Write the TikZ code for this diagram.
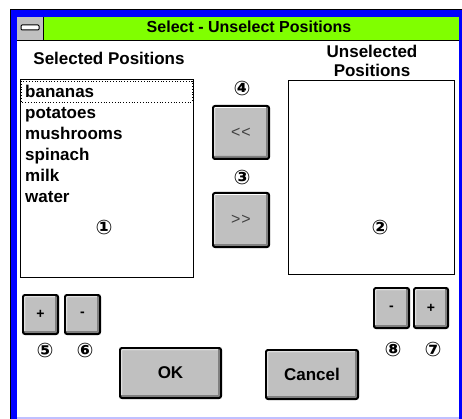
\documentclass[tikz,border=0pt]{standalone}
\usepackage{fontspec}
\setmainfont{Liberation Sans}
\newfontfamily\numfont{DejaVu Sans}
\definecolor{winblue}{RGB}{0,0,255}
\definecolor{wingreen}{RGB}{128,255,0}
\definecolor{wingray}{RGB}{192,192,192}
\definecolor{winshadow}{RGB}{128,128,128}
\definecolor{winlight}{RGB}{192,192,255}
\begin{document}
\begin{tikzpicture}[
  x=1pt, y=-1pt,
  label/.style={font=\bfseries\fontsize{17}{20}\selectfont, inner sep=0pt},
  item/.style={font=\bfseries\fontsize{17}{20}\selectfont, inner sep=0pt, anchor=base west},
  marker/.style={font=\numfont\bfseries\fontsize{20}{20}\selectfont, inner sep=0pt},
  listbox/.style={rectangle, draw=black, line width=1pt, fill=white, inner sep=0pt},
  button/.style={rectangle, rounded corners=2pt, draw=black, line width=2pt, fill=wingray, inner sep=0pt,
    path picture={
      \draw[white, line width=4pt] (path picture bounding box.south west) -- (path picture bounding box.north west) -- (path picture bounding box.north east);
      \draw[winshadow, line width=6pt] (path picture bounding box.south west) -- (path picture bounding box.south east) -- (path picture bounding box.north east);
    }},
  btntext/.style={font=\bfseries\fontsize{17}{20}\selectfont},
  arrowtext/.style={font=\fontsize{16}{16}\selectfont, text=black!75},
  smalltext/.style={font=\bfseries\fontsize{14}{16}\selectfont}
]
\useasboundingbox (0,0) rectangle (462,419);
\clip (0,0) rectangle (462,419);

% Window frame and title bar
\fill[winblue] (10,10) rectangle (480,440);
\fill[white] (17,17) rectangle (459,417);
\fill[winlight] (17,417) rectangle (459,420);
\draw[black, line width=1pt] (10,440) -- (10,10) -- (480,10);
\fill[wingreen] (17,17) rectangle (459,40);
\fill[wingray] (17,17) rectangle (43,40);
\draw[black, line width=1pt] (43,17) -- (43,40);
\draw[black, line width=1pt] (17,40.5) -- (459,40.5);
\draw[black, fill=white, line width=1pt, rounded corners=1pt] (21,25) rectangle (39,30);
\node[font=\bfseries\fontsize{16}{18}\selectfont, inner sep=0pt] (title) at (249,27) {Select - Unselect Positions};

% Headings
\node[label] (selhead) at (109,58) {Selected Positions};
\node[label, align=center] (unselhead) at (372,61) {Unselected\\[-1pt]Positions};

% Selected list
\node[listbox, minimum width=173pt, minimum height=197pt] (sellist) at (106.5,178.5) {};
\draw[black, dotted, line width=0.8pt] (21,81) rectangle (192,102);
\node[item] (i1) at (25,98) {bananas};
\node[item] (i2) at (25,119) {potatoes};
\node[item] (i3) at (25,140) {mushrooms};
\node[item] (i4) at (25,161) {spinach};
\node[item] (i5) at (25,182) {milk};
\node[item] (i6) at (25,203) {water};
\node[marker] (m1) at (104,227) {①};

% Unselected list
\node[listbox, minimum width=166pt, minimum height=193pt] (unsellist) at (371,177.5) {};
\node[marker] (m2) at (380,227) {②};

% Move buttons
\node[marker] (m4) at (242,89) {④};
\node[button, arrowtext, minimum width=56pt, minimum height=53pt] (moveleft) at (241,132.5) {{<}\kern1pt{<}};
\node[marker] (m3) at (242,177) {③};
\node[button, arrowtext, minimum width=56pt, minimum height=54pt] (moveright) at (241,220) {{>}\kern1pt{>}};

% Plus / minus buttons
\node[button, smalltext, minimum width=35pt, minimum height=39pt] (plusleft) at (40.5,314.5) {+};
\node[button, smalltext, minimum width=35pt, minimum height=39pt] (minusleft) at (82.5,314.5) {-};
\node[marker] (m5) at (45,350) {⑤};
\node[marker] (m6) at (85,350) {⑥};
\node[button, smalltext, minimum width=35pt, minimum height=40pt] (minusright) at (391.5,308) {-};
\node[button, smalltext, minimum width=34pt, minimum height=40pt] (plusright) at (431,308) {+};
\node[marker] (m8) at (393,349) {⑧};
\node[marker] (m7) at (433,349) {⑦};

% OK / Cancel
\node[button, btntext, minimum width=101pt, minimum height=50pt] (ok) at (170.5,373) {OK};
\node[button, btntext, minimum width=92pt, minimum height=49pt] (cancel) at (312,374.5) {Cancel};

\end{tikzpicture}
\end{document}
